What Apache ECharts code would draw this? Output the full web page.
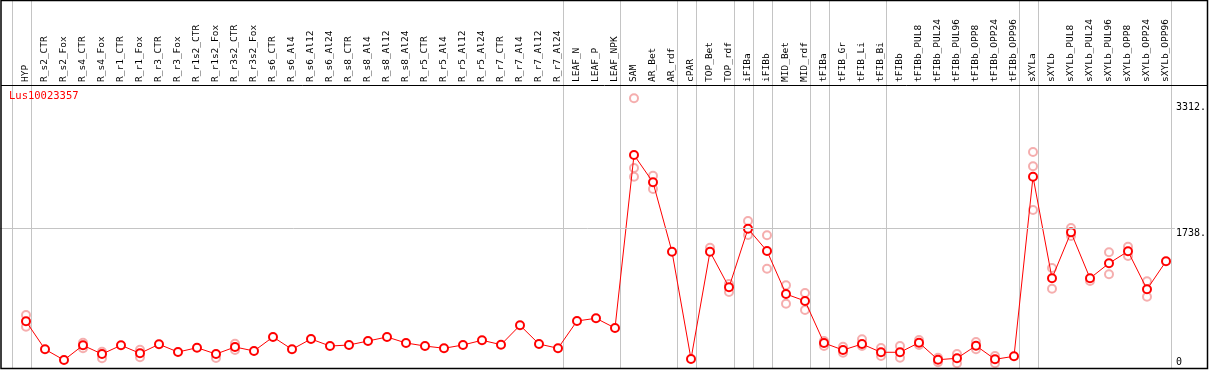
<!DOCTYPE html>
<html>
<head>
<meta charset="utf-8">
<script src="https://cdn.jsdelivr.net/npm/echarts@6/dist/echarts.min.js"></script>
<style>
html,body{margin:0;padding:0;background:#fff;}
#chart{width:1209px;height:370px;}
</style>
</head>
<body>
<div id="chart"></div>
<script>
const geneName = 'Lus10023357';
const categories = ['HYP','R_s2_CTR','R_s2_Fox','R_s4_CTR','R_s4_Fox','R_r1_CTR','R_r1_Fox','R_r3_CTR','R_r3_Fox','R_r1s2_CTR','R_r1s2_Fox','R_r3s2_CTR','R_r3s2_Fox','R_s6_CTR','R_s6_Al4','R_s6_Al12','R_s6_Al24','R_s8_CTR','R_s8_Al4','R_s8_Al12','R_s8_Al24','R_r5_CTR','R_r5_Al4','R_r5_Al12','R_r5_Al24','R_r7_CTR','R_r7_Al4','R_r7_Al12','R_r7_Al24','LEAF_N','LEAF_P','LEAF_NPK','SAM','AR_Bet','AR_rdf','cPAR','TOP_Bet','TOP_rdf','iFIBa','iFIBb','MID_Bet','MID_rdf','tFIBa','tFIB_Gr','tFIB_Li','tFIB_Bi','tFIBb','tFIBb_PUL8','tFIBb_PUL24','tFIBb_PUL96','tFIBb_OPP8','tFIBb_OPP24','tFIBb_OPP96','sXYLa','sXYLb','sXYLb_PUL8','sXYLb_PUL24','sXYLb_PUL96','sXYLb_OPP8','sXYLb_OPP24','sXYLb_OPP96'];
const means = [571,221,87,271,162,271,171,284,187,241,162,250,200,375,221,350,262,275,325,375,300,262,234,275,334,279,521,287,234,575,609,487,2650,2308,1441,100,1441,996,1728,1450,912,825,300,212,287,184,184,304,91,109,266,96,134,2378,1109,1683,1109,1296,1446,971,1321];
const rep1 = [650,null,null,304,191,null,216,null,null,null,null,291,null,
  null,null,null,null,null,null,null,null,null,null,null,null,null,null,null,null,null,null,null,
  3358,2391,null,null,1491,1037,1825,1646,1021,925,325,254,346,237,262,337,116,162,312,137,null,2687,1237,1737,1075,1434,1504,1071,null];
const rep2 = [504,null,null,234,109,null,121,null,null,null,112,212,null,
  null,null,null,null,null,null,null,null,null,null,null,null,null,null,null,null,null,null,null,
  2487,2225,null,null,null,937,1650,1229,791,712,262,179,262,137,116,275,59,46,221,46,null,2508,979,1637,null,1159,1387,879,null];
const rep3 = [null,null,null,null,null,null,null,null,null,null,null,null,null,
  null,null,null,null,null,null,null,null,null,null,null,null,null,null,null,null,null,null,null,
  2378,null,null,null,null,null,null,null,null,null,null,null,null,null,null,null,null,null,null,null,null,1962,null,null,null,null,null,null,null];
const groupEnds = [0,1,29,32,35,36,38,39,40,42,43,46,53,54,61];
const yTickValues = [0,1738,3312];
const refLine = 1738;

const Y_MAX = 3524.5;
const MONO = "'DejaVu Sans Mono', 'Liberation Mono', monospace";
const chart = echarts.init(document.getElementById('chart'), null, {renderer: 'canvas'});

const repStyle = {
  type: 'scatter', xAxisIndex: 0, yAxisIndex: 0,
  symbol: 'emptyCircle', symbolSize: 8,
  itemStyle: {color: '#f29a9a', borderColor: '#f29a9a', borderWidth: 1.2},
  z: 2, silent: true
};

// hidden x scale: u = boundary index + 1.24, shifted well away from the axis minimum
const sepData = groupEnds.map(k => ({value: [k + 1.24, 0]}));

chart.setOption({
  animation: false,
  backgroundColor: '#fff',
  title: {
    text: geneName, left: 9, top: 91, padding: 0,
    textStyle: {color: '#ff0000', fontFamily: MONO, fontSize: 10.5, fontWeight: 'normal'}
  },
  grid: [
    {left: 16.5, right: 33.5, top: 85, bottom: 3},
    {left: 0, right: 32, top: 85, bottom: 3},
    {left: 7, right: 33.5, top: 0, bottom: 2}
  ],
  xAxis: [
    {
      type: 'category', gridIndex: 0, data: categories, position: 'top',
      axisLine: {show: false}, axisTick: {show: false}, splitLine: {show: false},
      axisLabel: {interval: 0, rotate: 90, margin: 3, color: '#000', fontFamily: MONO, fontSize: 9.5}
    },
    {type: 'value', gridIndex: 1, min: 0, max: 1, show: false},
    {type: 'value', gridIndex: 2, min: 1, max: categories.length + 1.5, show: false}
  ],
  yAxis: [
    {type: 'value', gridIndex: 0, min: 0, max: Y_MAX, show: false},
    {
      type: 'value', gridIndex: 1, min: 0, max: Y_MAX, position: 'right',
      axisLine: {show: false}, axisTick: {show: false}, splitLine: {show: false},
      axisLabel: {
        show: true, customValues: yTickValues, margin: 1, color: '#000',
        fontFamily: MONO, fontSize: 10, verticalAlign: 'middle',
        formatter: v => v === 0 ? '{lo|0}' : '{hi|' + v + '.}',
        rich: {
          hi: {padding: [10, 0, 0, 0], fontFamily: MONO, fontSize: 10, color: '#000'},
          lo: {padding: [0, 0, 10, 0], fontFamily: MONO, fontSize: 10, color: '#000'}
        }
      }
    },
    {type: 'value', gridIndex: 2, min: 0, max: 1, show: false}
  ],
  graphic: [
    {type: 'rect', shape: {x: 1, y: 0.5, width: 1206.5, height: 368}, style: {fill: 'none', stroke: '#000', lineWidth: 1.5}, z: 100, silent: true},
    {type: 'line', shape: {x1: 1, y1: 85.5, x2: 1208, y2: 85.5}, style: {stroke: '#000', lineWidth: 1}, z: 100, silent: true}
  ],
  series: [
    {
      type: 'custom', xAxisIndex: 2, yAxisIndex: 2, data: sepData, silent: true, clip: false,
      encode: {x: 0, y: 1},
      renderItem: function (params, api) {
        const top = api.coord([api.value(0), 1]);
        const bottom = api.coord([api.value(0), 0]);
        const x = Math.round(top[0]) + 0.5;
        return {
          type: 'line',
          shape: {x1: x, y1: top[1], x2: x, y2: bottom[1]},
          style: {stroke: '#c4c4c4', lineWidth: 1}
        };
      },
      z: 1
    },
    {
      type: 'scatter', xAxisIndex: 1, yAxisIndex: 1, data: [], silent: true,
      markLine: {
        silent: true, symbol: ['none', 'none'], label: {show: false},
        lineStyle: {color: '#c4c4c4', type: 'solid', width: 1},
        data: [{yAxis: refLine}]
      }
    },
    Object.assign({data: rep1}, repStyle),
    Object.assign({data: rep2}, repStyle),
    Object.assign({data: rep3}, repStyle),
    {
      type: 'line', xAxisIndex: 0, yAxisIndex: 0, data: means,
      symbol: 'emptyCircle', symbolSize: 8,
      lineStyle: {color: '#ff0000', width: 1},
      itemStyle: {color: '#ff0000', borderColor: '#ff0000', borderWidth: 1.6},
      z: 3, silent: true
    }
  ]
});
</script>
</body>
</html>
